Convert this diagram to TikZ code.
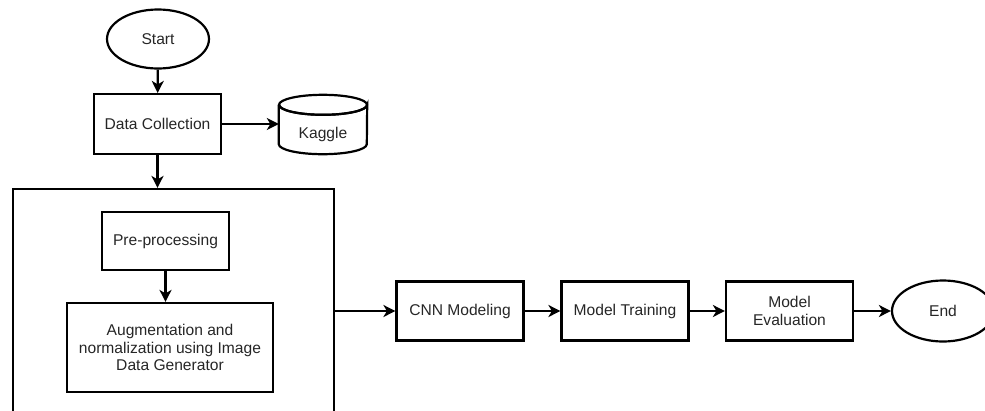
\documentclass[tikz,border=0pt]{standalone}
\usepackage{fontspec}
\setmainfont{Liberation Sans}
\usetikzlibrary{arrows.meta,shapes.geometric}
\begin{document}
\begin{tikzpicture}[x=1pt,y=-1pt,
  every node/.style={font=\fontsize{15.6}{17.8}\selectfont, text=black!85, align=center, inner sep=0pt},
  procbox/.style={draw=black, line width=2.2pt, rectangle, minimum width=127pt, minimum height=59pt},
  termnode/.style={draw=black, line width=2.2pt, ellipse, minimum width=102pt, minimum height=59pt},
  conn/.style={line width=2.2pt, -{Stealth[length=12pt,width=12pt,inset=3.5pt]}},
  frame/.style={draw=black, line width=2.2pt, rectangle, minimum width=321pt, minimum height=261pt}
]
\useasboundingbox (0,0) rectangle (985,410);
\clip (0,0) rectangle (985,410);

\node[termnode] (start) at (158,39) {Start};
\node[procbox, minimum width=127pt, minimum height=60pt] (dc) at (157.5,124) {Data Collection};

% Kaggle cylinder
\node[minimum width=88pt, minimum height=59pt] (kaggle) at (323,124.5) {};
\draw[line width=2.2pt] ([yshift=-10pt]kaggle.north west) -- ([yshift=10pt]kaggle.south west)
  arc[start angle=180, end angle=360, x radius=44pt, y radius=10pt]
  -- ([yshift=-10pt]kaggle.north east)
  arc[start angle=0, end angle=-180, x radius=44pt, y radius=10pt];
\draw[line width=2.2pt] ([yshift=-10pt]kaggle.north) ellipse[x radius=44pt, y radius=10pt];
\node (kagtext) at (323,134) {Kaggle};

\node[frame] (frame) at (173.5,319.5) {};
\node[procbox, minimum width=127pt, minimum height=58pt] (pre) at (165.5,241) {Pre-processing};
\node[procbox, minimum width=206pt, minimum height=89pt] (aug) at (170,347.5) {Augmentation and\\normalization using Image\\Data Generator};

\node[procbox] (cnn) at (460,311) {CNN Modeling};
\node[procbox] (train) at (625,311) {Model Training};
\node[procbox] (eval) at (789.5,311) {Model\\Evaluation};
\node[termnode, minimum height=61pt] (end) at (943,311) {End};

\draw[conn] (start) -- (dc);
\draw[conn] (dc) -- (kaggle.west |- dc);
\draw[conn] (dc.south) -- (dc.south |- frame.north);
\draw[conn] (pre.south) -- (pre.south |- aug.north);
\draw[conn] (frame.east |- cnn) -- (cnn);
\draw[conn] (cnn) -- (train);
\draw[conn] (train) -- (eval);
\draw[conn] (eval) -- (end);
\end{tikzpicture}
\end{document}
